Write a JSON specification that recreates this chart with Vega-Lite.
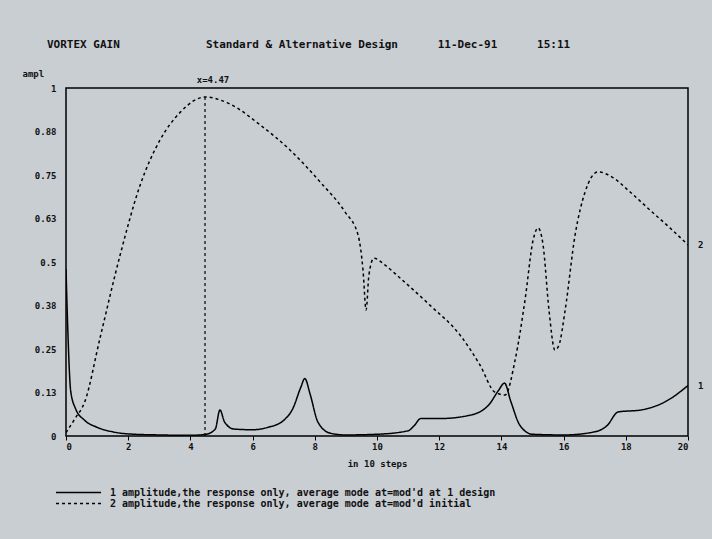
{
  "$schema": "https://vega.github.io/schema/vega-lite/v6.json",
  "width": 622,
  "height": 348,
  "autosize": {"type": "none"},
  "padding": {"left": 66, "top": 88, "right": 24, "bottom": 103},
  "background": "#c9ced3",
  "title": {
    "text": "VORTEX GAIN\u00a0\u00a0\u00a0\u00a0\u00a0\u00a0\u00a0\u00a0\u00a0\u00a0\u00a0\u00a0\u00a0Standard & Alternative Design\u00a0\u00a0\u00a0\u00a0\u00a0\u00a011-Dec-91\u00a0\u00a0\u00a0\u00a0\u00a0\u00a015:11",
    "anchor": "start",
    "offset": 19,
    "dx": 25,
    "font": "DejaVu Sans Mono",
    "fontSize": 11,
    "fontWeight": "bold",
    "color": "#111111"
  },
  "datasets": {
    "curves": [
      {"series": "1 amplitude,the response only, average mode at=mod'd at 1 design", "x": 0, "y": 0.48},
      {"series": "1 amplitude,the response only, average mode at=mod'd at 1 design", "x": 0.06, "y": 0.30},
      {"series": "1 amplitude,the response only, average mode at=mod'd at 1 design", "x": 0.15, "y": 0.13},
      {"series": "1 amplitude,the response only, average mode at=mod'd at 1 design", "x": 0.3, "y": 0.08},
      {"series": "1 amplitude,the response only, average mode at=mod'd at 1 design", "x": 0.6, "y": 0.045},
      {"series": "1 amplitude,the response only, average mode at=mod'd at 1 design", "x": 1.0, "y": 0.025},
      {"series": "1 amplitude,the response only, average mode at=mod'd at 1 design", "x": 1.5, "y": 0.012},
      {"series": "1 amplitude,the response only, average mode at=mod'd at 1 design", "x": 2.0, "y": 0.006},
      {"series": "1 amplitude,the response only, average mode at=mod'd at 1 design", "x": 3.0, "y": 0.003},
      {"series": "1 amplitude,the response only, average mode at=mod'd at 1 design", "x": 4.0, "y": 0.002},
      {"series": "1 amplitude,the response only, average mode at=mod'd at 1 design", "x": 4.5, "y": 0.005},
      {"series": "1 amplitude,the response only, average mode at=mod'd at 1 design", "x": 4.8, "y": 0.02},
      {"series": "1 amplitude,the response only, average mode at=mod'd at 1 design", "x": 4.95, "y": 0.075},
      {"series": "1 amplitude,the response only, average mode at=mod'd at 1 design", "x": 5.1, "y": 0.04},
      {"series": "1 amplitude,the response only, average mode at=mod'd at 1 design", "x": 5.4, "y": 0.02},
      {"series": "1 amplitude,the response only, average mode at=mod'd at 1 design", "x": 6.0, "y": 0.018},
      {"series": "1 amplitude,the response only, average mode at=mod'd at 1 design", "x": 6.5, "y": 0.025},
      {"series": "1 amplitude,the response only, average mode at=mod'd at 1 design", "x": 7.0, "y": 0.045},
      {"series": "1 amplitude,the response only, average mode at=mod'd at 1 design", "x": 7.3, "y": 0.08},
      {"series": "1 amplitude,the response only, average mode at=mod'd at 1 design", "x": 7.55, "y": 0.14},
      {"series": "1 amplitude,the response only, average mode at=mod'd at 1 design", "x": 7.68, "y": 0.165},
      {"series": "1 amplitude,the response only, average mode at=mod'd at 1 design", "x": 7.85, "y": 0.12},
      {"series": "1 amplitude,the response only, average mode at=mod'd at 1 design", "x": 8.1, "y": 0.04},
      {"series": "1 amplitude,the response only, average mode at=mod'd at 1 design", "x": 8.5, "y": 0.008},
      {"series": "1 amplitude,the response only, average mode at=mod'd at 1 design", "x": 9.0, "y": 0.003},
      {"series": "1 amplitude,the response only, average mode at=mod'd at 1 design", "x": 10.0, "y": 0.005},
      {"series": "1 amplitude,the response only, average mode at=mod'd at 1 design", "x": 11.0, "y": 0.015},
      {"series": "1 amplitude,the response only, average mode at=mod'd at 1 design", "x": 11.2, "y": 0.03},
      {"series": "1 amplitude,the response only, average mode at=mod'd at 1 design", "x": 11.4, "y": 0.05},
      {"series": "1 amplitude,the response only, average mode at=mod'd at 1 design", "x": 12.0, "y": 0.05},
      {"series": "1 amplitude,the response only, average mode at=mod'd at 1 design", "x": 13.0, "y": 0.06},
      {"series": "1 amplitude,the response only, average mode at=mod'd at 1 design", "x": 13.6, "y": 0.09},
      {"series": "1 amplitude,the response only, average mode at=mod'd at 1 design", "x": 13.9, "y": 0.13},
      {"series": "1 amplitude,the response only, average mode at=mod'd at 1 design", "x": 14.1, "y": 0.152},
      {"series": "1 amplitude,the response only, average mode at=mod'd at 1 design", "x": 14.3, "y": 0.1},
      {"series": "1 amplitude,the response only, average mode at=mod'd at 1 design", "x": 14.6, "y": 0.03},
      {"series": "1 amplitude,the response only, average mode at=mod'd at 1 design", "x": 15.0, "y": 0.005},
      {"series": "1 amplitude,the response only, average mode at=mod'd at 1 design", "x": 16.0, "y": 0.003},
      {"series": "1 amplitude,the response only, average mode at=mod'd at 1 design", "x": 17.0, "y": 0.012},
      {"series": "1 amplitude,the response only, average mode at=mod'd at 1 design", "x": 17.4, "y": 0.03},
      {"series": "1 amplitude,the response only, average mode at=mod'd at 1 design", "x": 17.75, "y": 0.069},
      {"series": "1 amplitude,the response only, average mode at=mod'd at 1 design", "x": 18.5, "y": 0.075},
      {"series": "1 amplitude,the response only, average mode at=mod'd at 1 design", "x": 19.3, "y": 0.1},
      {"series": "1 amplitude,the response only, average mode at=mod'd at 1 design", "x": 20.0, "y": 0.145},
      {"series": "2 amplitude,the response only, average mode at=mod'd initial", "x": 0, "y": 0.01},
      {"series": "2 amplitude,the response only, average mode at=mod'd initial", "x": 0.29, "y": 0.05},
      {"series": "2 amplitude,the response only, average mode at=mod'd initial", "x": 0.61, "y": 0.10},
      {"series": "2 amplitude,the response only, average mode at=mod'd initial", "x": 1.09, "y": 0.28},
      {"series": "2 amplitude,the response only, average mode at=mod'd initial", "x": 1.74, "y": 0.52},
      {"series": "2 amplitude,the response only, average mode at=mod'd initial", "x": 2.38, "y": 0.72},
      {"series": "2 amplitude,the response only, average mode at=mod'd initial", "x": 3.02, "y": 0.85},
      {"series": "2 amplitude,the response only, average mode at=mod'd initial", "x": 3.67, "y": 0.93},
      {"series": "2 amplitude,the response only, average mode at=mod'd initial", "x": 4.47, "y": 0.974},
      {"series": "2 amplitude,the response only, average mode at=mod'd initial", "x": 5.27, "y": 0.954},
      {"series": "2 amplitude,the response only, average mode at=mod'd initial", "x": 6.24, "y": 0.894},
      {"series": "2 amplitude,the response only, average mode at=mod'd initial", "x": 7.2, "y": 0.822},
      {"series": "2 amplitude,the response only, average mode at=mod'd initial", "x": 8.17, "y": 0.73},
      {"series": "2 amplitude,the response only, average mode at=mod'd initial", "x": 8.97, "y": 0.644},
      {"series": "2 amplitude,the response only, average mode at=mod'd initial", "x": 9.39, "y": 0.578},
      {"series": "2 amplitude,the response only, average mode at=mod'd initial", "x": 9.55, "y": 0.477},
      {"series": "2 amplitude,the response only, average mode at=mod'd initial", "x": 9.65, "y": 0.362},
      {"series": "2 amplitude,the response only, average mode at=mod'd initial", "x": 9.74, "y": 0.463},
      {"series": "2 amplitude,the response only, average mode at=mod'd initial", "x": 9.9, "y": 0.511},
      {"series": "2 amplitude,the response only, average mode at=mod'd initial", "x": 10.26, "y": 0.491},
      {"series": "2 amplitude,the response only, average mode at=mod'd initial", "x": 10.74, "y": 0.454},
      {"series": "2 amplitude,the response only, average mode at=mod'd initial", "x": 11.7, "y": 0.376},
      {"series": "2 amplitude,the response only, average mode at=mod'd initial", "x": 12.67, "y": 0.29},
      {"series": "2 amplitude,the response only, average mode at=mod'd initial", "x": 13.31, "y": 0.204},
      {"series": "2 amplitude,the response only, average mode at=mod'd initial", "x": 13.79, "y": 0.126},
      {"series": "2 amplitude,the response only, average mode at=mod'd initial", "x": 14.12, "y": 0.118},
      {"series": "2 amplitude,the response only, average mode at=mod'd initial", "x": 14.44, "y": 0.218},
      {"series": "2 amplitude,the response only, average mode at=mod'd initial", "x": 14.76, "y": 0.391},
      {"series": "2 amplitude,the response only, average mode at=mod'd initial", "x": 15.02, "y": 0.563},
      {"series": "2 amplitude,the response only, average mode at=mod'd initial", "x": 15.18, "y": 0.598},
      {"series": "2 amplitude,the response only, average mode at=mod'd initial", "x": 15.34, "y": 0.549},
      {"series": "2 amplitude,the response only, average mode at=mod'd initial", "x": 15.53, "y": 0.362},
      {"series": "2 amplitude,the response only, average mode at=mod'd initial", "x": 15.72, "y": 0.247},
      {"series": "2 amplitude,the response only, average mode at=mod'd initial", "x": 15.85, "y": 0.261},
      {"series": "2 amplitude,the response only, average mode at=mod'd initial", "x": 16.05, "y": 0.362},
      {"series": "2 amplitude,the response only, average mode at=mod'd initial", "x": 16.37, "y": 0.578},
      {"series": "2 amplitude,the response only, average mode at=mod'd initial", "x": 16.69, "y": 0.701},
      {"series": "2 amplitude,the response only, average mode at=mod'd initial", "x": 17.11, "y": 0.759},
      {"series": "2 amplitude,the response only, average mode at=mod'd initial", "x": 17.56, "y": 0.744},
      {"series": "2 amplitude,the response only, average mode at=mod'd initial", "x": 18.14, "y": 0.701},
      {"series": "2 amplitude,the response only, average mode at=mod'd initial", "x": 18.78, "y": 0.649},
      {"series": "2 amplitude,the response only, average mode at=mod'd initial", "x": 19.42, "y": 0.598},
      {"series": "2 amplitude,the response only, average mode at=mod'd initial", "x": 20.0, "y": 0.549}
    ],
    "peak": [{"x": 4.47, "y": 0.974, "base": 0, "lab": "x=4.47"}],
    "ends": [{"x": 20, "y": 0.549, "lab": "2"}, {"x": 20, "y": 0.145, "lab": "1"}]
  },
  "layer": [
    {
      "data": {"name": "curves"},
      "mark": {"type": "line", "color": "black", "strokeWidth": 1.5, "clip": true, "interpolate": "monotone"},
      "encoding": {
        "x": {"field": "x", "type": "quantitative", "scale": {"domain": [0, 20], "nice": false}, "title": "in  10 steps",
              "axis": {"values": [0, 2, 4, 6, 8, 10, 12, 14, 16, 18, 20]}},
        "y": {"field": "y", "type": "quantitative", "scale": {"domain": [0, 1], "nice": false}, "title": "ampl",
              "axis": {"values": [0, 0.125, 0.25, 0.375, 0.5, 0.625, 0.75, 0.875, 1],
                       "labelExpr": "datum.value == 0 ? '0' : datum.value == 1 ? '1' : format(datum.value, '.2~f')"}},
        "strokeDash": {"field": "series", "type": "nominal", "title": null,
                       "scale": {"range": [[1, 0], [3, 3]]}}
      }
    },
    {
      "data": {"name": "peak"},
      "mark": {"type": "rule", "color": "black", "strokeWidth": 1.2, "strokeDash": [3, 3]},
      "encoding": {
        "x": {"field": "x", "type": "quantitative", "title": "in  10 steps"},
        "y": {"field": "base", "type": "quantitative", "title": "ampl"},
        "y2": {"field": "y"}
      }
    },
    {
      "data": {"name": "peak"},
      "mark": {"type": "text", "font": "DejaVu Sans Mono", "fontWeight": "bold", "fontSize": 9, "dy": -17, "dx": 8, "color": "#111111"},
      "encoding": {
        "x": {"field": "x", "type": "quantitative", "title": "in  10 steps"},
        "y": {"field": "y", "type": "quantitative", "title": "ampl"},
        "text": {"field": "lab", "type": "nominal"}
      }
    },
    {
      "data": {"name": "ends"},
      "mark": {"type": "text", "font": "DejaVu Sans Mono", "fontWeight": "bold", "fontSize": 9, "dx": 10, "align": "left", "color": "#111111"},
      "encoding": {
        "x": {"field": "x", "type": "quantitative", "title": "in  10 steps"},
        "y": {"field": "y", "type": "quantitative", "title": "ampl"},
        "text": {"field": "lab", "type": "nominal"}
      }
    }
  ],
  "config": {
    "view": {"stroke": "black", "strokeWidth": 1.5, "fill": "#c9ced3"},
    "axis": {
      "domain": false,
      "grid": false,
      "labelFont": "DejaVu Sans Mono",
      "labelFontWeight": "bold",
      "labelFontSize": 9,
      "labelColor": "#111111",
      "titleFont": "DejaVu Sans Mono",
      "titleFontWeight": "bold",
      "titleFontSize": 9,
      "titleColor": "#111111",
      "tickColor": "black"
    },
    "axisX": {"tickSize": 4, "labelPadding": 2, "titlePadding": 8},
    "axisY": {"ticks": false, "labelPadding": 10, "titleAngle": 0, "titleAlign": "left", "titleBaseline": "middle", "titleX": -44, "titleY": -15},
    "legend": {
      "orient": "none",
      "legendX": -11,
      "legendY": 399,
      "symbolType": "stroke",
      "symbolSize": 2025,
      "symbolStrokeWidth": 1.5,
      "symbolStrokeColor": "black",
      "labelFont": "DejaVu Sans Mono",
      "labelFontWeight": "bold",
      "labelFontSize": 10,
      "labelColor": "#111111",
      "labelOffset": 8,
      "rowPadding": 0,
      "clipHeight": 11,
      "labelLimit": 600
    }
  }
}
